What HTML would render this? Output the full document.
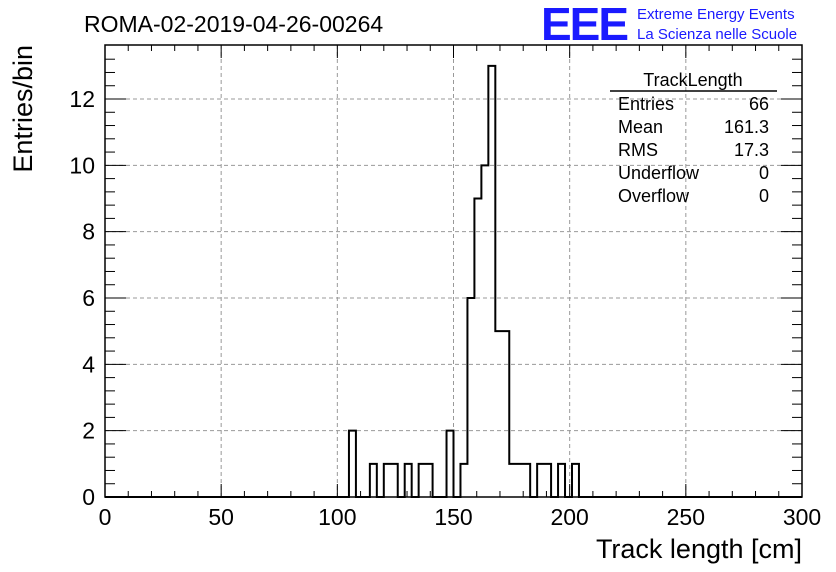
<!DOCTYPE html>
<html><head><meta charset="utf-8"><style>
body{margin:0;background:#fff}
svg{display:block;font-family:"Liberation Sans",sans-serif}
</style></head><body>
<svg id="c" width="836" height="572" viewBox="0 0 836 572">
<text x="84" y="32" font-size="23">ROMA-02-2019-04-26-00264</text>
<text x="541" y="40" font-size="46" fill="#1a1aff" font-weight="bold" style="letter-spacing:-2px">EEE</text>
<text x="637" y="19" font-size="15" fill="#1a1aff">Extreme Energy Events</text>
<text x="637" y="39" font-size="15" fill="#1a1aff">La Scienza nelle Scuole</text>
<g id="grid"></g>
<g id="axes"></g>
<path id="hist" fill="none" stroke="#000" stroke-width="2"/>
<rect x="105" y="45" width="697" height="452" fill="none" stroke="#000" stroke-width="1.5"/>
<text x="32" y="45" font-size="27" transform="rotate(-90 32 45)" text-anchor="end">Entries/bin</text>
<text x="802" y="558" font-size="27" text-anchor="end">Track length [cm]</text>
<g font-size="18">
<text x="693" y="86" text-anchor="middle">TrackLength</text>
<line x1="610" y1="91" x2="777" y2="91" stroke="#000" stroke-width="1.5"/>
<text x="618" y="110">Entries</text><text x="769" y="110" text-anchor="end">66</text>
<text x="618" y="133">Mean</text><text x="769" y="133" text-anchor="end">161.3</text>
<text x="618" y="156">RMS</text><text x="769" y="156" text-anchor="end">17.3</text>
<text x="618" y="179">Underflow</text><text x="769" y="179" text-anchor="end">0</text>
<text x="618" y="202">Overflow</text><text x="769" y="202" text-anchor="end">0</text>
</g>
</svg>
<script>
const binWidth = 3;
const binStarts = [105,114,120,123,129,135,138,147,153,156,159,162,165,168,171,174,177,180,186,189,195,201];
const binCounts = [2,1,1,1,1,1,1,2,1,6,9,10,13,5,5,1,1,1,1,1,1,1];
const xTicks = [0,50,100,150,200,250,300];
const yTicks = [0,2,4,6,8,10,12];
const X0=105,X1=802,Y0=497,Y12=99;
const sx=v=>X0+(v/300)*(X1-X0);
const sy=v=>Y0-(v/12)*(Y0-Y12);
const NS="http://www.w3.org/2000/svg";
const grid=document.getElementById('grid'), axes=document.getElementById('axes');
function mk(tag,attrs,parent){const e=document.createElementNS(NS,tag);for(const k in attrs)e.setAttribute(k,attrs[k]);parent.appendChild(e);return e;}
xTicks.forEach(t=>{
  const x=sx(t);
  if(t>0&&t<300){const g=mk('line',{x1:x,y1:45,x2:x,y2:Y0,stroke:'#999','stroke-dasharray':'4,3'},grid);
  
  }
  mk('line',{x1:x,y1:Y0,x2:x,y2:Y0-13,stroke:'#000'},axes);
  mk('line',{x1:x,y1:45,x2:x,y2:58,stroke:'#000'},axes);
  const tx=mk('text',{x:x,y:525,'font-size':23,'text-anchor':'middle'},axes);
  tx.textContent=t;
  
  
});
for(let v=0;v<=300;v+=10){if(v%50){const x=sx(v);mk('line',{x1:x,y1:Y0,x2:x,y2:Y0-6,stroke:'#000'},axes);mk('line',{x1:x,y1:45,x2:x,y2:51,stroke:'#000'},axes);}}
yTicks.forEach(t=>{
  const y=sy(t);
  if(t>0){const g=mk('line',{x1:X0,y1:y,x2:X1,y2:y,stroke:'#999','stroke-dasharray':'4,3'},grid);
  
  }
  mk('line',{x1:X0,y1:y,x2:X0+21,y2:y,stroke:'#000'},axes);
  mk('line',{x1:X1,y1:y,x2:X1-21,y2:y,stroke:'#000'},axes);
  const tx=mk('text',{x:95,y:y+8,'font-size':23,'text-anchor':'end'},axes);
  tx.textContent=t;
  
  
});
for(let v=0.4;v<13.5;v+=0.4){if(Math.abs(v/2-Math.round(v/2))>0.01){const y=sy(v);if(y<46)break;mk('line',{x1:X0,y1:y,x2:X0+10,y2:y,stroke:'#000'},axes);mk('line',{x1:X1,y1:y,x2:X1-10,y2:y,stroke:'#000'},axes);}}
// build full step outline over all bins
const nb=Math.round(300/binWidth);
const full=new Array(nb).fill(0);
binStarts.forEach((s,i)=>{full[Math.round(s/binWidth)]=binCounts[i];});
let d='M'+sx(0)+','+sy(full[0]);
for(let i=0;i<nb;i++){
  d+=' L'+sx(i*binWidth)+','+sy(full[i])+' L'+sx((i+1)*binWidth)+','+sy(full[i]);
}
document.getElementById('hist').setAttribute('d',d);
</script>
</body></html>
